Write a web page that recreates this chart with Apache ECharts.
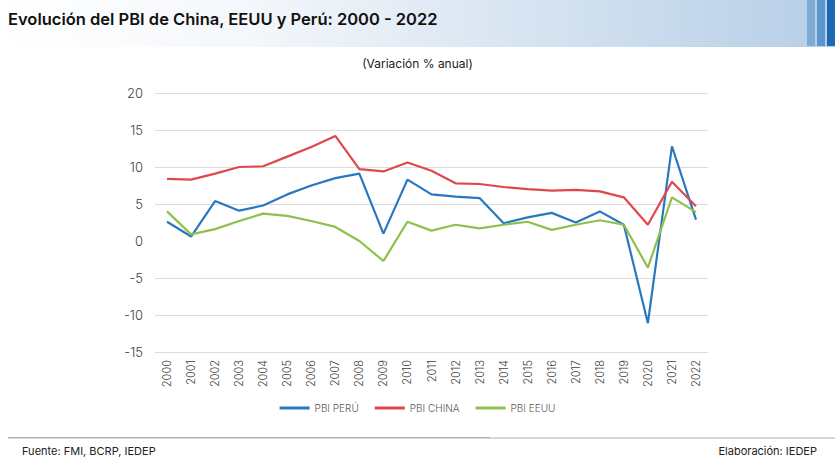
<!DOCTYPE html>
<html><head><meta charset="utf-8">
<script src="https://cdn.jsdelivr.net/npm/echarts@6/dist/echarts.min.js"></script>
<style>html,body{margin:0;padding:0;background:#fff}#c{width:835px;height:465px}</style>
</head><body><div id="c"></div>
<script>
const years = ['2000','2001','2002','2003','2004','2005','2006','2007','2008','2009','2010','2011','2012','2013','2014','2015','2016','2017','2018','2019','2020','2021','2022'];
const pbiPeru  = [2.6, 0.6, 5.4, 4.1, 4.8, 6.3, 7.5, 8.5, 9.1, 1.0, 8.3, 6.3, 6.0, 5.8, 2.4, 3.2, 3.8, 2.5, 4.0, 2.2, -11.1, 12.8, 2.9];
const pbiChina = [8.4, 8.3, 9.1, 10.0, 10.1, 11.4, 12.7, 14.2, 9.7, 9.4, 10.6, 9.5, 7.8, 7.7, 7.3, 7.0, 6.8, 6.9, 6.7, 5.9, 2.2, 8.0, 4.7];
const pbiEEUU  = [4.0, 0.9, 1.6, 2.7, 3.7, 3.4, 2.7, 1.9, 0.0, -2.7, 2.6, 1.4, 2.2, 1.7, 2.2, 2.6, 1.5, 2.2, 2.8, 2.2, -3.6, 5.9, 3.9];
const yTicks = { min: -15, max: 20, interval: 5 };

const FONT = 'Inter, "Open Sans", sans-serif';
const chart = echarts.init(document.getElementById('c'), null, { renderer: 'svg' });
chart.setOption({
  animation: false,
  textStyle: { fontFamily: FONT },
  graphic: [
    { type: 'rect', shape: { x: 0, y: 0, width: 835, height: 47 }, silent: true,
      style: { fill: new echarts.graphic.LinearGradient(0, 0, 1, 0, [
        { offset: 0, color: '#ffffff' }, { offset: 0.3, color: '#f4f7fb' }, { offset: 1, color: '#b6cee6' }]) } },
    { type: 'rect', shape: { x: 807, y: 0, width: 8, height: 46 }, style: { fill: '#7eaad6' } },
    { type: 'rect', shape: { x: 817, y: 0, width: 8, height: 46 }, style: { fill: '#5b97cd' } },
    { type: 'rect', shape: { x: 827, y: 0, width: 8, height: 46 }, style: { fill: '#1f68b3' } },
    { type: 'text', left: 8, top: 10, style: { text: 'Evolución del PBI de China, EEUU y Perú: 2000 - 2022', fontFamily: FONT, fontWeight: 600, fontSize: 16.5, fill: '#111' } },
    { type: 'text', left: 'center', top: 57, style: { text: '(Variación % anual)', fontFamily: FONT, fontSize: 12, fill: '#222' } },
    { type: 'rect', shape: { x: 8, y: 437, width: 482, height: 1.5 }, style: { fill: '#b0b0b0' } },
    { type: 'rect', shape: { x: 490, y: 437, width: 345, height: 2 }, style: { fill: '#d6d6d6' } },
    { type: 'text', left: 22, top: 445, style: { text: 'Fuente: FMI, BCRP, IEDEP', fontFamily: FONT, fontSize: 11, fill: '#222' } },
    { type: 'text', right: 18, top: 445, style: { text: 'Elaboración: IEDEP', fontFamily: FONT, fontSize: 11, fill: '#222' } }
  ],
  legend: {
    bottom: 47, left: 'center', itemWidth: 30, itemHeight: 3, itemGap: 16,
    icon: 'rect',
    textStyle: { fontFamily: FONT, fontSize: 10, color: '#595959', fontWeight: 300 },
    data: ['PBI PERÚ', 'PBI CHINA', 'PBI EEUU']
  },
  grid: { left: 155, right: 127, top: 93, bottom: 113 },
  xAxis: {
    type: 'category', data: years, boundaryGap: true,
    axisLine: { show: false }, axisTick: { show: false },
    axisLabel: { rotate: 90, fontSize: 11, color: '#404040', margin: 8, fontFamily: FONT, fontWeight: 300 }
  },
  yAxis: {
    type: 'value', min: yTicks.min, max: yTicks.max, interval: yTicks.interval,
    axisLine: { show: false }, axisTick: { show: false },
    axisLabel: { fontSize: 13, color: '#404040', margin: 12, fontFamily: FONT, fontWeight: 300 },
    splitLine: { lineStyle: { color: ['#dcdcdc', '#dcdcdc', '#dcdcdc', 'rgba(0,0,0,0)', '#dcdcdc', '#dcdcdc', '#dcdcdc', '#dcdcdc'], width: 1 } }
  },
  series: [
    { name: 'PBI PERÚ', type: 'line', data: pbiPeru, symbol: 'none', lineStyle: { width: 2.2, color: '#2878c0' }, itemStyle: { color: '#2878c0' } },
    { name: 'PBI CHINA', type: 'line', data: pbiChina, symbol: 'none', lineStyle: { width: 2.2, color: '#e0474c' }, itemStyle: { color: '#e0474c' } },
    { name: 'PBI EEUU', type: 'line', data: pbiEEUU, symbol: 'none', lineStyle: { width: 2.2, color: '#8dc04c' }, itemStyle: { color: '#8dc04c' } }
  ]
});
</script></body></html>
